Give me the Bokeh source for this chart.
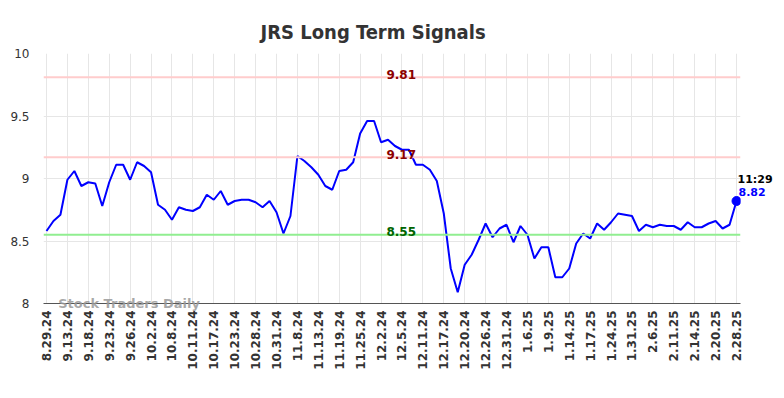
from bokeh.plotting import figure
from bokeh.models import FixedTicker, NumeralTickFormatter, Label, Span
from bokeh.embed import file_html
from bokeh.resources import INLINE

title_text = "JRS Long Term Signals"
watermark = "Stock Traders Daily"

date_labels = ["8.29.24", "9.13.24", "9.18.24", "9.23.24", "9.26.24", "10.2.24",
               "10.8.24", "10.11.24", "10.17.24", "10.23.24", "10.28.24", "10.31.24",
               "11.8.24", "11.13.24", "11.19.24", "11.25.24", "12.2.24", "12.5.24",
               "12.11.24", "12.17.24", "12.20.24", "12.26.24", "12.31.24", "1.6.25",
               "1.9.25", "1.14.25", "1.17.25", "1.24.25", "1.31.25", "2.6.25",
               "2.11.25", "2.14.25", "2.20.25", "2.28.25"]

values = [8.58, 8.66, 8.71, 8.99, 9.06, 8.94, 8.97, 8.96, 8.78, 8.97,
          9.11, 9.11, 8.99, 9.13, 9.10, 9.05, 8.79, 8.75, 8.67, 8.77,
          8.75, 8.74, 8.77, 8.87, 8.83, 8.90, 8.79, 8.82, 8.83, 8.83,
          8.81, 8.77, 8.82, 8.73, 8.56, 8.70, 9.18, 9.14, 9.09, 9.03,
          8.94, 8.91, 9.06, 9.07, 9.13, 9.36, 9.46, 9.46, 9.29, 9.31,
          9.26, 9.23, 9.23, 9.11, 9.11, 9.07, 8.98, 8.72, 8.28, 8.09,
          8.31, 8.39, 8.51, 8.64, 8.53, 8.60, 8.63, 8.49, 8.62, 8.55,
          8.36, 8.45, 8.45, 8.21, 8.21, 8.28, 8.48, 8.56, 8.52, 8.64,
          8.59, 8.65, 8.72, 8.71, 8.70, 8.58, 8.63, 8.61, 8.63, 8.62,
          8.62, 8.59, 8.65, 8.61, 8.61, 8.64, 8.66, 8.60, 8.63, 8.82]

upper_level = 9.81
middle_level = 9.17
lower_level = 8.55
last_time = "11:29"
y_ticks = [8, 8.5, 9, 9.5, 10]
label_step = 3

xs = list(range(len(values)))
tick_pos = xs[::label_step]

p = figure(width=784, height=398, x_range=(-0.43, 99.57), y_range=(8, 10),
           output_backend="svg", toolbar_location=None,
           min_border_left=43, min_border_right=44, min_border_top=53,
           min_border_bottom=95)
p.outline_line_color = None
p.background_fill_color = "white"
p.border_fill_color = "white"

# title
p.title.text = title_text
p.title.align = "left"
p.title.offset = 217
p.title.text_font = "DejaVu Sans Condensed"
p.title.text_font_style = "bold"
p.title.text_font_size = "20px"
p.title.text_color = "#333333"
p.title.standoff = 0

# grids
p.xgrid.ticker = FixedTicker(ticks=tick_pos)
p.ygrid.ticker = FixedTicker(ticks=y_ticks)
p.xgrid.grid_line_color = "#e6e6e6"
p.ygrid.grid_line_color = "#e6e6e6"

# x axis
p.xaxis.ticker = FixedTicker(ticks=tick_pos)
p.xaxis.major_label_overrides = {t: lab for t, lab in zip(tick_pos, date_labels)}
p.xaxis.major_label_orientation = 3.14159265 / 2
p.xaxis.major_label_text_font = "DejaVu Sans"
p.xaxis.major_label_text_font_style = "bold"
p.xaxis.major_label_text_font_size = "12px"
p.xaxis.major_label_text_color = "#333333"
p.xaxis.major_tick_out = 0
p.xaxis.major_tick_in = 0
p.xaxis.minor_tick_out = 0
p.xaxis.minor_tick_in = 0
p.xaxis.axis_line_color = "#555555"
p.xaxis.major_label_standoff = 7

# y axis
p.yaxis.ticker = FixedTicker(ticks=y_ticks)
p.yaxis.formatter = NumeralTickFormatter(format="0.[0]")
p.yaxis.major_label_text_font = "DejaVu Sans"
p.yaxis.major_label_text_font_size = "12px"
p.yaxis.major_label_text_color = "#333333"
p.yaxis.major_tick_out = 0
p.yaxis.major_tick_in = 0
p.yaxis.minor_tick_out = 0
p.yaxis.minor_tick_in = 0
p.yaxis.axis_line_color = None
p.yaxis.major_label_standoff = 14

# level lines
p.add_layout(Span(location=upper_level, dimension="width", line_color="#ffcccc", line_width=2))
p.add_layout(Span(location=middle_level, dimension="width", line_color="#ffcccc", line_width=2))
p.add_layout(Span(location=lower_level, dimension="width", line_color="#90ee90", line_width=2))

# main series
p.line(xs, values, line_color="#0000ff", line_width=2)
p.scatter([xs[-1]], [values[-1]], size=9, color="#0000ff")

lab_x = 50.9
for lvl, col in [(upper_level, "#8b0000"), (middle_level, "#8b0000"), (lower_level, "#006400")]:
    p.add_layout(Label(x=lab_x, y=lvl, text=f"{lvl:.2f}", text_align="center",
                       text_baseline="alphabetic", y_offset=3,
                       text_font="DejaVu Sans", text_font_style="bold",
                       text_font_size="12px", text_color=col))

# last value annotations (placed in side panels so they are not clipped)
p.add_layout(Label(x=xs[-1], y=values[-1], text=last_time, x_offset=1, y_offset=22,
                   text_align="left", text_baseline="alphabetic",
                   text_font="DejaVu Sans", text_font_style="bold",
                   text_font_size="11px", text_color="black"), "right")
p.add_layout(Label(x=xs[-1], y=values[-1], text=f"{values[-1]:.2f}", x_offset=1, y_offset=9,
                   text_align="left", text_baseline="alphabetic", padding=1,
                   text_font="DejaVu Sans", text_font_style="bold",
                   text_font_size="11px", text_color="#0000ff"), "above")

# watermark
p.add_layout(Label(x=1.68, y=8, text=watermark, text_align="left", text_baseline="middle",
                   text_font="DejaVu Sans", text_font_style="bold",
                   text_font_size="13px", text_color="#999999", text_alpha=0.85), "below")

open("out.html", "w").write(file_html(p, INLINE))
